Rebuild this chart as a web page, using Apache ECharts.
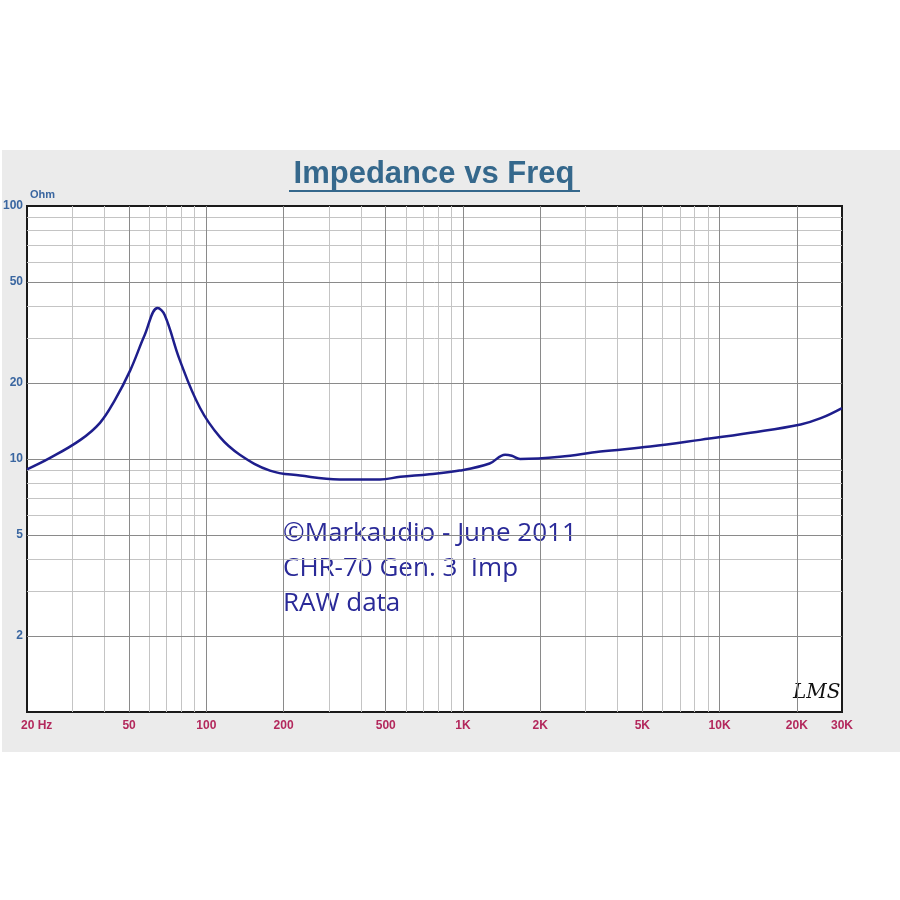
<!DOCTYPE html>
<html>
<head>
<meta charset="utf-8">
<script src="https://cdn.jsdelivr.net/npm/echarts@6/dist/echarts.min.js"></script>
<style>
  body { margin: 0; background: #fff; }
  #chart { width: 900px; height: 900px; }
</style>
</head>
<body>
<div id="chart"></div>
<script>
// impedance curve
const freq = [20, 24.6, 32.3, 38.5, 44, 50.5, 57.5, 64.6, 68.8, 78.8, 94.5, 113, 135, 177, 232, 330, 475, 570, 740, 970, 1270, 1460, 1550, 1670, 2390, 3430, 5370, 8410, 13200, 20700, 24800, 30000];
const ohm = [9.1, 10.1, 11.9, 13.9, 17.1, 22.4, 30.9, 39.5, 37.1, 24.6, 15.9, 12.2, 10.4, 9.0, 8.6, 8.3, 8.3, 8.5, 8.7, 9.0, 9.6, 10.4, 10.3, 10.0, 10.2, 10.7, 11.2, 11.9, 12.7, 13.7, 14.5, 15.9];

const xTicks = [20, 50, 100, 200, 500, 1000, 2000, 5000, 10000, 20000, 30000];
const xTickLabels = ['20 Hz', '50', '100', '200', '500', '1K', '2K', '5K', '10K', '20K', '30K'];
const yTicks = [100, 50, 20, 10, 5, 2];
const yTickLabels = ['100', '50', '20', '10', '5', '2'];

const annotation = ['©Markaudio - June 2011', 'CHR-70 Gen. 3  Imp', 'RAW data'];

// grid line values
const xGrid = [];
[10, 100, 1000, 10000].forEach(d => {
    for (let k = 1; k < 10; k++) {
        const v = d * k;
        if (v > 20 && v < 30000) xGrid.push(v);
    }
});
const yGrid = [];
[1, 10].forEach(d => {
    for (let k = 1; k < 10; k++) {
        const v = d * k;
        if (v > 1) yGrid.push(v);
    }
});
const isMajor = v => {
    const m = v / Math.pow(10, Math.floor(Math.log10(v) + 1e-9));
    return Math.abs(m - 1) < 1e-6 || Math.abs(m - 2) < 1e-6 || Math.abs(m - 5) < 1e-6;
};

const myChart = echarts.init(document.getElementById('chart'));

const gridSeries = (major) => ({
    type: 'line',
    data: [],
    silent: true,
    markLine: {
        silent: true,
        symbol: 'none',
        label: { show: false },
        lineStyle: { type: 'solid', color: major ? '#8a8a8a' : '#c4c4c4', width: 1 },
        data: xGrid.filter(v => isMajor(v) === major).map(v => ({ xAxis: v }))
            .concat(yGrid.filter(v => isMajor(v) === major).map(v => ({ yAxis: v }))),
    },
});

let chartOption = {
    animation: false,
    graphic: [
        {
            type: 'rect', z: -10, silent: true,
            shape: { x: 2, y: 150, width: 898, height: 602 },
            style: { fill: '#ebebeb' },
        },
    ],
    grid: {
        show: true,
        left: 27,
        right: 58,
        top: 206,
        bottom: 188,
        backgroundColor: '#fff',
        borderColor: '#1a1a1a',
        borderWidth: 2,
    },
    xAxis: {
        type: 'log',
        min: 20,
        max: 30000,
        axisLine: { show: false },
        axisTick: { show: false },
        axisLabel: { show: false },
        splitLine: { show: false },
    },
    yAxis: {
        type: 'log',
        min: 1,
        max: 100,
        axisLine: { show: false },
        axisTick: { show: false },
        axisLabel: { show: false },
        splitLine: { show: false },
    },
    series: [
        gridSeries(false),
        gridSeries(true),
        {
            type: 'line',
            data: freq.map((f, i) => [f, ohm[i]]),
            smooth: 0.4,
            showSymbol: false,
            z: 5,
            lineStyle: { color: '#1e1e8c', width: 2.5 },
        },
    ],
};
myChart.setOption(chartOption);

// texts placed through the chart's own scales
const g = chartOption.graphic.slice();
g.push({
    type: 'text', x: 434, y: 174,
    style: { text: 'Impedance vs Freq', font: 'bold 31px "Liberation Sans", Arial', fill: '#35688c', align: 'center', verticalAlign: 'middle' },
});
g.push({ type: 'rect', shape: { x: 289, y: 190, width: 291, height: 2 }, style: { fill: '#35688c' } });
g.push({
    type: 'text', x: 30, y: 189,
    style: { text: 'Ohm', font: 'bold 11px "Liberation Sans", Arial', fill: '#3a66a0' },
});
xTicks.forEach((v, i) => {
    const p = myChart.convertToPixel({ xAxisIndex: 0, yAxisIndex: 0 }, [v, 1]);
    g.push({
        type: 'text', x: i === 0 ? p[0] - 6 : p[0], y: p[1] + 14,
        style: {
            text: xTickLabels[i], font: 'bold 12px "Liberation Sans Narrow", "Liberation Sans", Arial',
            fill: '#b3285c', align: i === 0 ? 'left' : 'center', verticalAlign: 'middle',
        },
    });
});
yTicks.forEach((v, i) => {
    const p = myChart.convertToPixel({ xAxisIndex: 0, yAxisIndex: 0 }, [20, v]);
    g.push({
        type: 'text', x: p[0] - 4, y: p[1],
        style: {
            text: yTickLabels[i], font: 'bold 12px "Liberation Sans Narrow", "Liberation Sans", Arial',
            fill: '#3a66a0', align: 'right', verticalAlign: 'middle',
        },
    });
});
annotation.forEach((t, i) => {
    g.push({
        type: 'text', x: 283, y: 534 + i * 35,
        style: { text: t, font: '26px "Open Sans", "Liberation Sans", Arial', fill: '#2a2a98', verticalAlign: 'middle' },
    });
});
g.push({
    type: 'text', x: 793, y: 693,
    style: { text: 'LMS', font: 'italic 20px "DejaVu Serif", serif', fill: '#111', verticalAlign: 'middle' },
});
myChart.setOption({ graphic: g });

window.addEventListener('resize', function() {
    myChart.resize();
});
</script>
</body>
</html>
